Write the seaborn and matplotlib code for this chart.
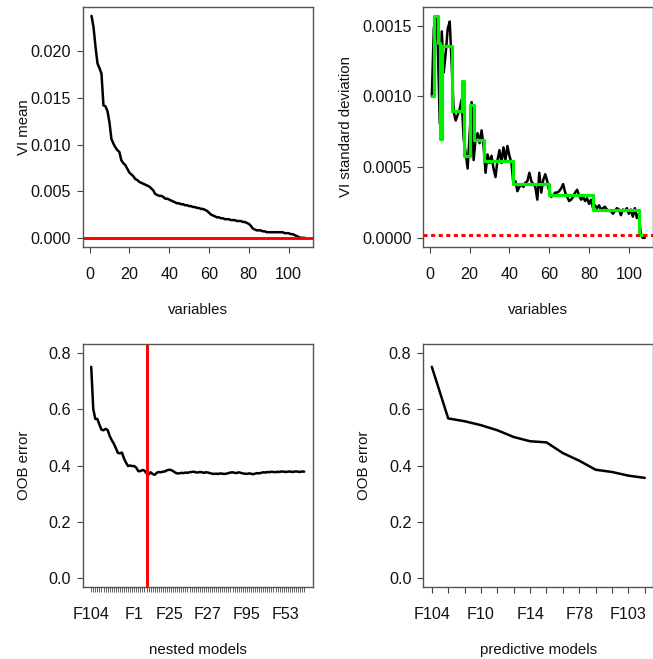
"""
VSURF-style diagnostic panels: VI mean, VI sd, nested and predictive models.
"""

import numpy as np
import matplotlib
matplotlib.use("Agg")
import matplotlib.pyplot as plt
import seaborn as sns

# variable importance, sorted (108 variables)
vi_mean = [
    0.0238, 0.0226, 0.0205, 0.0187, 0.0182, 0.0176, 0.0142, 0.0141, 0.0136, 0.0124,
    0.0106, 0.0101, 0.0097, 0.0094, 0.0092, 0.0083, 0.0080, 0.0078, 0.0074, 0.0070,
    0.0068, 0.0066, 0.0063, 0.0062, 0.0060, 0.0059, 0.0058, 0.0057, 0.0056, 0.0055,
    0.0053, 0.0051, 0.0047, 0.0046, 0.0045, 0.0045, 0.0044, 0.0042, 0.0042, 0.0041,
    0.0040, 0.0039, 0.0038, 0.0037, 0.0037, 0.0036, 0.0036, 0.0035, 0.0035, 0.0034,
    0.0034, 0.0033, 0.0033, 0.0032, 0.0032, 0.0031, 0.0031, 0.0030, 0.0029, 0.0027,
    0.0025, 0.0024, 0.0023, 0.0022, 0.0022, 0.0021, 0.0021, 0.0020, 0.0020, 0.0020,
    0.0019, 0.0019, 0.0019, 0.0018, 0.0018, 0.0018, 0.0017, 0.0017, 0.0016, 0.0015,
    0.0013, 0.0010, 0.0009, 0.0008, 0.0008, 0.0008, 0.0007, 0.0007, 0.0006, 0.0006,
    0.0006, 0.0006, 0.0006, 0.0006, 0.0006, 0.0006, 0.0006, 0.0005, 0.0005, 0.0005,
    0.0004, 0.0004, 0.0003, 0.0002, 0.0001, 0.0000, 0.0000, 0.0000,
]

vi_sd = [
    0.00100, 0.00148, 0.00156, 0.00136, 0.00081, 0.00146, 0.00117, 0.00131, 0.00148, 0.00153,
    0.00122, 0.00089, 0.00083, 0.00087, 0.00091, 0.00098, 0.00070, 0.00060, 0.00049, 0.00074,
    0.00096, 0.00055, 0.00070, 0.00074, 0.00067, 0.00076, 0.00065, 0.00046, 0.00059, 0.00053,
    0.00058, 0.00049, 0.00043, 0.00055, 0.00062, 0.00053, 0.00064, 0.00055, 0.00065, 0.00058,
    0.00053, 0.00038, 0.00040, 0.00033, 0.00036, 0.00038, 0.00036, 0.00039, 0.00040, 0.00046,
    0.00040, 0.00038, 0.00036, 0.00027, 0.00046, 0.00032, 0.00041, 0.00045, 0.00040, 0.00033,
    0.00029, 0.00030, 0.00032, 0.00032, 0.00033, 0.00035, 0.00038, 0.00032, 0.00029, 0.00026,
    0.00027, 0.00029, 0.00032, 0.00034, 0.00030, 0.00027, 0.00029, 0.00026, 0.00028, 0.00024,
    0.00027, 0.00021, 0.00023, 0.00021, 0.00023, 0.00020, 0.00021, 0.00022, 0.00020, 0.00019,
    0.00019, 0.00017, 0.00019, 0.00021, 0.00020, 0.00016, 0.00020, 0.00019, 0.00021, 0.00017,
    0.00020, 0.00015, 0.00021, 0.00014, 0.00017, 0.00002, 0.00000, 0.00000,
]

# CART fit of the sd curve (step changes)
sd_step_start = [1, 2, 4, 5, 6, 11, 16, 17, 20, 22, 27, 42, 60, 82, 105, 108]
sd_step_level = [0.00100, 0.00157, 0.00138, 0.00070, 0.00136, 0.00090, 0.00111, 0.00058,
                 0.00094, 0.00069, 0.00054, 0.00038, 0.00030, 0.00020, 0.00002, 0.00002]
sd_threshold = 0.00002

# nested models (interpretation step)
nested_err = [
    0.750, 0.600, 0.565, 0.565, 0.545, 0.527, 0.525, 0.530, 0.526, 0.505,
    0.490, 0.478, 0.462, 0.445, 0.443, 0.446, 0.425, 0.410, 0.398, 0.400,
    0.398, 0.398, 0.392, 0.380, 0.380, 0.384, 0.382, 0.372, 0.368, 0.376,
    0.370, 0.367, 0.374, 0.377, 0.376, 0.378, 0.379, 0.383, 0.385, 0.384,
    0.380, 0.375, 0.372, 0.372, 0.374, 0.373, 0.375, 0.374, 0.376, 0.377,
    0.378, 0.376, 0.375, 0.377, 0.376, 0.374, 0.376, 0.375, 0.373, 0.371,
    0.370, 0.371, 0.370, 0.372, 0.371, 0.370, 0.371, 0.373, 0.375, 0.376,
    0.374, 0.373, 0.376, 0.374, 0.372, 0.371, 0.370, 0.372, 0.371, 0.369,
    0.371, 0.373, 0.372, 0.374, 0.376, 0.375, 0.377, 0.376, 0.378, 0.377,
    0.376, 0.378, 0.377, 0.379, 0.378, 0.377, 0.378, 0.379, 0.377, 0.378,
    0.379, 0.378, 0.377, 0.379, 0.378,
]
nested_labels = ["F104", "F1", "F25", "F27", "F95", "F53"]
nested_label_at = [1, 22, 39, 58, 77, 96]
nested_selected = 28

# predictive models (prediction step)
pred_err = [0.750, 0.567, 0.557, 0.543, 0.525, 0.501, 0.486,
            0.482, 0.444, 0.417, 0.385, 0.377, 0.364, 0.356]
pred_labels = ["F104", "F10", "F14", "F78", "F103"]
pred_label_at = [1, 4, 7, 10, 13]

W, H = 653, 659
TICK_FS = 11.6
LABEL_FS = 10.8
sns.set_style("white")
plt.rcParams["font.family"] = ["Liberation Sans", "DejaVu Sans"]

fig = plt.figure(figsize=(W / 100, H / 100), dpi=100)


def r_lim(lo, hi):
    # R default 4% axis extension
    pad = 0.04 * (hi - lo)
    return lo - pad, hi + pad


def add_panel(left, top, bottom):
    ax = fig.add_axes([left / W, (H - bottom) / H, 230 / W, (bottom - top) / H])
    for sp in ax.spines.values():
        sp.set_visible(True)
        sp.set_color("#555555")
        sp.set_linewidth(1.0)
    ax.tick_params(axis="both", direction="out", length=4, width=0.8,
                   color="#444444", labelcolor="#111111", labelsize=TICK_FS,
                   bottom=True, left=True)
    ax.tick_params(axis="x", pad=10.5)
    ax.tick_params(axis="y", pad=4.5)
    ax.grid(False)
    return ax


def set_labels(ax, xlabel, ylabel, xpos, ypos):
    ax.set_xlabel(xlabel, fontsize=LABEL_FS, color="#111111")
    ax.set_ylabel(ylabel, fontsize=LABEL_FS, color="#111111")
    ax.xaxis.set_label_coords(0.5, ypos)
    ax.yaxis.set_label_coords(xpos, 0.5)
    ax.xaxis.label.set_va("center")
    ax.yaxis.label.set_va("center")


x_var = np.arange(1, len(vi_mean) + 1)

# top left: VI mean
ax1 = add_panel(83, 7, 246.7)
sns.lineplot(x=x_var, y=vi_mean, ax=ax1, color="black", lw=1.8)
ax1.axhline(0, color="red", lw=2.1)
ax1.set_xlim(*r_lim(1, len(vi_mean)))
ax1.set_ylim(*r_lim(min(vi_mean), max(vi_mean)))
ax1.set_xticks([0, 20, 40, 60, 80, 100])
ax1.set_yticks([0, 0.005, 0.010, 0.015, 0.020])
ax1.set_yticklabels([f"{v:.3f}" for v in ax1.get_yticks()])
set_labels(ax1, "variables", "VI mean", -0.255, -0.264)

# top right: VI standard deviation
ax2 = add_panel(423.3, 7, 246.7)
sns.lineplot(x=x_var, y=vi_sd, ax=ax2, color="black", lw=1.8)
sns.lineplot(x=sd_step_start, y=sd_step_level, ax=ax2, color="#00ee00", lw=2.3,
             drawstyle="steps-post")
ax2.axhline(sd_threshold, color="red", lw=2.1, ls=(0, (1.4, 1.2)))
ax2.set_xlim(*r_lim(1, len(vi_sd)))
ax2.set_ylim(*r_lim(min(vi_sd), max(sd_step_level)))
ax2.set_xticks([0, 20, 40, 60, 80, 100])
ax2.set_yticks([0, 0.0005, 0.0010, 0.0015])
ax2.set_yticklabels([f"{v:.4f}" for v in ax2.get_yticks()])
set_labels(ax2, "variables", "VI standard deviation", -0.337, -0.264)

# bottom left: nested models
ax3 = add_panel(82.7, 343.7, 587.3)
k_nested = np.arange(1, len(nested_err) + 1)
sns.lineplot(x=k_nested, y=nested_err, ax=ax3, color="black", lw=1.8)
ax3.axvline(nested_selected, color="red", lw=2.1)
ax3.set_xlim(*r_lim(1, len(nested_err)))
ax3.set_ylim(*r_lim(0, 0.8))
ax3.set_xticks(k_nested)
lab_map = dict(zip(nested_label_at, nested_labels))
ax3.set_xticklabels([lab_map.get(k, "") for k in k_nested])
ax3.tick_params(axis="x", length=3.5, width=0.6)
ax3.set_yticks([0, 0.2, 0.4, 0.6, 0.8])
ax3.set_yticklabels([f"{v:.1f}" for v in ax3.get_yticks()])
set_labels(ax3, "nested models", "OOB error", -0.255, -0.257)

# bottom right: predictive models
ax4 = add_panel(423.3, 343.7, 587.3)
k_pred = np.arange(1, len(pred_err) + 1)
sns.lineplot(x=k_pred, y=pred_err, ax=ax4, color="black", lw=1.8)
ax4.set_xlim(*r_lim(1, len(pred_err)))
ax4.set_ylim(*r_lim(0, 0.8))
ax4.set_xticks(k_pred)
lab_map = dict(zip(pred_label_at, pred_labels))
ax4.set_xticklabels([lab_map.get(k, "") for k in k_pred])
ax4.set_yticks([0, 0.2, 0.4, 0.6, 0.8])
ax4.set_yticklabels([f"{v:.1f}" for v in ax4.get_yticks()])
set_labels(ax4, "predictive models", "OOB error", -0.26, -0.257)

fig.savefig("out.png", dpi=100, facecolor="white")
